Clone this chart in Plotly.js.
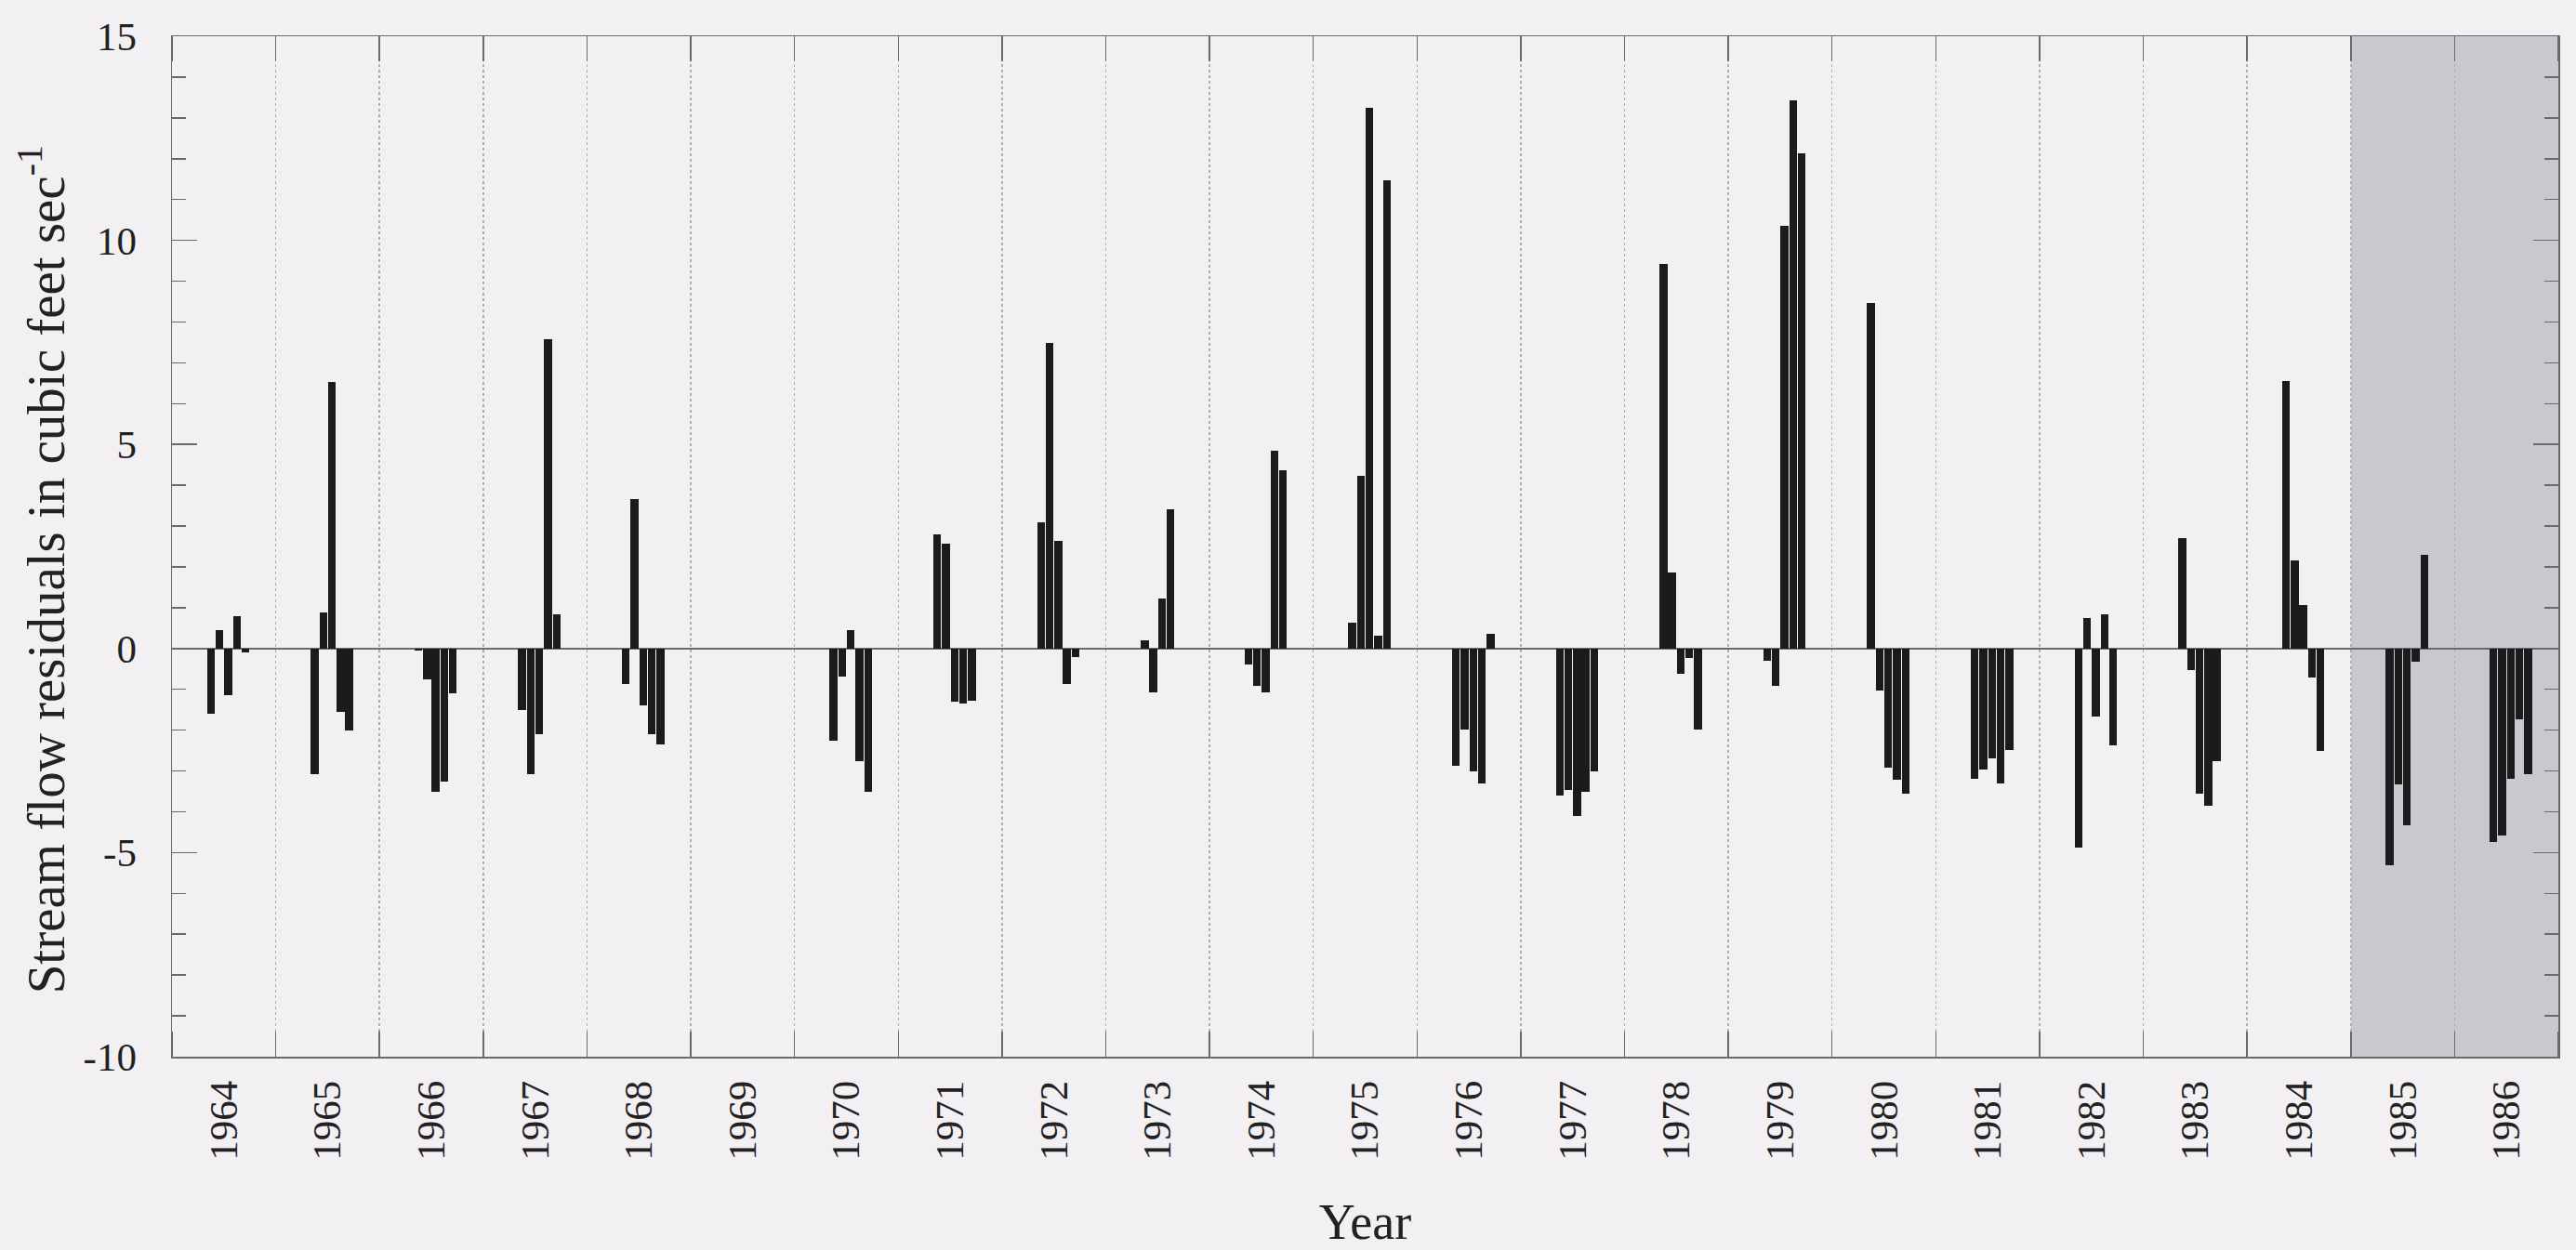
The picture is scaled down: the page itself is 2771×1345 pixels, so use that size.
<!DOCTYPE html>
<html>
<head>
<meta charset="utf-8">
<script src="https://cdn.plot.ly/plotly-3.0.1.min.js"></script>
<style>
  html, body { margin: 0; padding: 0; background: #f3f0f4; }
  #chart { width: 2771px; height: 1345px; }
</style>
</head>
<body>
<div id="chart"></div>
<script>
// Years shown on the x axis
const years = [1964, 1965, 1966, 1967, 1968, 1969, 1970, 1971, 1972, 1973, 1974, 1975,
               1976, 1977, 1978, 1979, 1980, 1981, 1982, 1983, 1984, 1985, 1986];

// Month slots (0-based month index within each year) that carry a residual
const monthNames = ['May', 'Jun', 'Jul', 'Aug', 'Sep'];
const monthIndex = [4, 5, 6, 7, 8];

// Stream flow residuals (cubic feet per second), one value per year for each month
const mayResid = [-1.60, -3.07, -0.05, -1.50, -0.88, 0, -2.25,  2.79,  3.09,  0.20, -0.39,  0.64,
                  -2.87, -3.61,  9.43, -0.29,  8.46, -3.20, -4.88,  2.70,  6.56, -5.31, -4.73];
const junResid = [ 0.45,  0.88, -0.76, -3.07,  3.67, 0, -0.68,  2.56,  7.48, -1.07, -0.92,  4.22,
                  -1.99, -3.46,  1.86, -0.92, -1.02, -2.97,  0.74, -0.53,  2.15, -3.32, -4.57];
const julResid = [-1.15,  6.54, -3.50, -2.09, -1.40, 0,  0.45, -1.30,  2.64,  1.23, -1.07, 13.24,
                  -3.00, -4.10, -0.63, 10.35, -2.91, -2.68, -1.66, -3.55,  1.07, -4.34, -3.20];
const augResid = [ 0.80, -1.56, -3.26,  7.58, -2.09, 0, -2.77, -1.35, -0.86,  3.42,  4.84,  0.31,
                  -3.30, -3.52, -0.23, 13.44, -3.22, -3.30,  0.84, -3.85, -0.72, -0.33, -1.74];
const sepResid = [-0.10, -2.00, -1.10,  0.84, -2.34, 0, -3.50, -1.27, -0.20,  0.00,  4.36, 11.48,
                   0.35, -3.00, -1.99, 12.13, -3.55, -2.48, -2.38, -2.77, -2.52,  2.29, -3.07];

// Years highlighted with a grey band
const shadedYears = [1985, 1986];

// Y axis tick values
const yTickVals = [-10, -5, 0, 5, 10, 15];

// Axis title texts
const xTitle = 'Year';
const yTitle = 'Stream flow residuals in cubic feet sec<sup>-1</sup>';

const seriesByMonth = [mayResid, junResid, julResid, augResid, sepResid];

const FONT = 'Liberation Serif, Times New Roman, serif';
const BAR = '#1b1a1d';
const AXIS = '#6a6a6a';

const traces = seriesByMonth.map((vals, k) => ({
  type: 'bar',
  name: monthNames[k],
  x: years.map(y => y - 0.5 + (monthIndex[k] + 0.5) / 12),
  y: vals,
  width: 0.9 / 12,
  marker: { color: BAR, line: { width: 0 } },
  showlegend: false,
  hoverinfo: 'x+y'
}));

const layout = {
  width: 2771,
  height: 1345,
  paper_bgcolor: '#f3f0f4',
  plot_bgcolor: '#f3f0f4',
  margin: { l: 185, r: 19, t: 39, b: 208 },
  barmode: 'overlay',
  bargap: 0,
  font: { family: FONT, color: '#222', size: 42 },
  showlegend: false,
  xaxis: {
    range: [years[0] - 0.5, years[years.length - 1] + 0.5],
    tickvals: years,
    ticktext: years.map(String),
    ticks: '',
    tickangle: -90,
    tickfont: { family: FONT, size: 43, color: '#222' },
    ticklabelstandoff: 7,
    showgrid: false,
    zeroline: false,
    showline: true,
    linecolor: AXIS,
    linewidth: 1.5,
    mirror: 'ticks',
    minor: {
      tick0: years[0] - 0.5,
      dtick: 1,
      ticks: 'inside',
      ticklen: 27,
      tickwidth: 1.5,
      tickcolor: AXIS,
      showgrid: true,
      gridcolor: '#b0aeb3',
      gridwidth: 1.5,
      griddash: 'dot'
    },
    title: {
      text: xTitle,
      font: { family: FONT, size: 54, color: '#222' },
      standoff: 50
    }
  },
  yaxis: {
    range: [-10, 15],
    tickvals: yTickVals,
    ticktext: yTickVals.map(String),
    ticks: 'inside',
    ticklen: 27,
    tickwidth: 1.5,
    tickcolor: AXIS,
    tickfont: { family: FONT, size: 43, color: '#222' },
    ticklabelstandoff: 28,
    showgrid: false,
    zeroline: true,
    zerolinecolor: AXIS,
    zerolinewidth: 1.5,
    showline: true,
    linecolor: AXIS,
    linewidth: 1.5,
    mirror: 'ticks',
    minor: {
      dtick: 1,
      ticks: 'inside',
      ticklen: 15,
      tickwidth: 1.5,
      tickcolor: AXIS,
      showgrid: false
    }
  },
  annotations: [{
    text: yTitle,
    xref: 'paper',
    yref: 'paper',
    x: -0.0545,
    y: 0.477,
    xanchor: 'center',
    yanchor: 'middle',
    textangle: -90,
    showarrow: false,
    font: { family: FONT, size: 57, color: '#222' }
  }],
  shapes: [{
    type: 'rect',
    layer: 'below',
    xref: 'x',
    yref: 'paper',
    x0: shadedYears[0] - 0.5,
    x1: shadedYears[shadedYears.length - 1] + 0.5,
    y0: 0,
    y1: 1,
    fillcolor: '#c9c8cd',
    line: { width: 0 }
  }]
};

Plotly.newPlot('chart', traces, layout, { displayModeBar: false, staticPlot: true });
</script>
</body>
</html>
